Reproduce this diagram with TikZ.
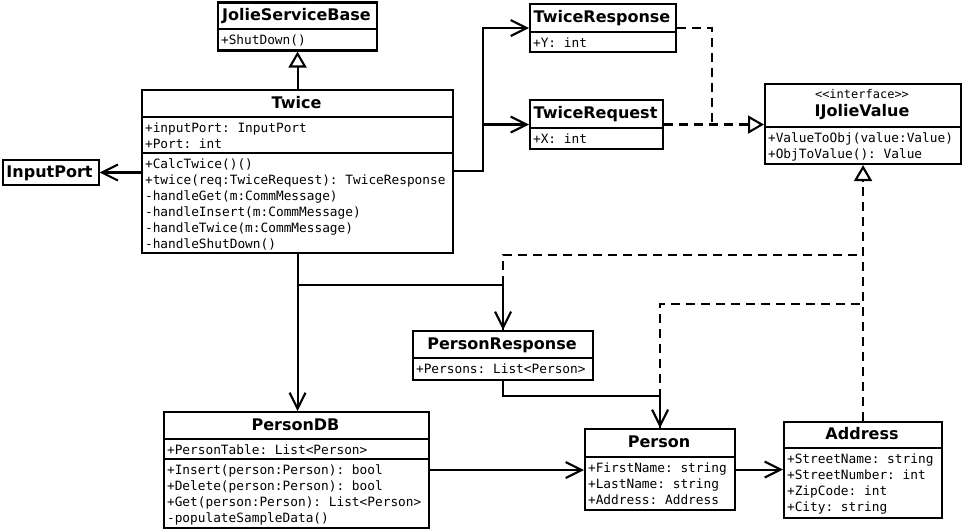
\documentclass[tikz,border=0pt]{standalone}
\usepackage{fontspec}
\setmainfont{DejaVu Sans}
\setmonofont{DejaVu Sans Mono}
\usetikzlibrary{arrows.meta,calc}
\begin{document}
\begin{tikzpicture}[x=1pt,y=-1pt,line width=2.1pt,
 cls/.style={draw=black,line width=2.1pt,fill=white,inner sep=0pt,anchor=north west},
 ttl/.style={anchor=base,inner sep=0pt,font=\fontsize{16}{19}\selectfont\bfseries},
 stereo/.style={anchor=base,inner sep=0pt,font=\fontsize{12}{14}\selectfont\ttfamily},
 mem/.style={anchor=north west,inner sep=0pt,align=left,font=\fontsize{12.8}{16}\selectfont\ttfamily},
 assoc/.style={-{Straight Barb[length=16pt,width=16pt]}},
 gen/.style={-{Triangle[open,length=16pt,width=18pt,fill=white]}},
 dsh/.style={dash pattern=on 9pt off 6pt},
 real/.style={dsh,-{Triangle[open,length=16pt,width=18pt,fill=white]}},
]
\fill[white] (0,0) rectangle (962,529);
\useasboundingbox (0,0) rectangle (962,529);

% JolieServiceBase
\node[cls,minimum width=159pt,minimum height=48pt] (jsb) at (217,1.5) {};
\draw (217,29) -- (376,29);
\node[ttl] (jsbt) at (296.5,20.5) {JolieServiceBase};
\node[mem] (jsbm) at (220,34) {+ShutDown()};

% Twice
\node[cls,minimum width=311pt,minimum height=163pt] (twice) at (141,89) {};
\draw (141,117) -- (452,117);
\draw (141,153) -- (452,153);
\node[ttl] (twicet) at (296.5,109) {Twice};
\node[mem] (twicea) at (144,122) {+inputPort: InputPort\\+Port: int};
\node[mem] (twicem) at (144,158) {+CalcTwice()()\\+twice(req:TwiceRequest): TwiceResponse\\-handleGet(m:CommMessage)\\-handleInsert(m:CommMessage)\\-handleTwice(m:CommMessage)\\-handleShutDown()};

% InputPort
\node[cls,minimum width=96pt,minimum height=25pt] (inport) at (1.5,159) {};
\node[ttl] (inportt) at (49.5,177.5) {InputPort};

% TwiceResponse
\node[cls,minimum width=146pt,minimum height=48pt] (tresp) at (529,3) {};
\draw (529,32) -- (675,32);
\node[ttl] (trespt) at (602,23) {TwiceResponse};
\node[mem] (trespm) at (532,37) {+Y: int};

% TwiceRequest
\node[cls,minimum width=133pt,minimum height=49pt] (treq) at (529,99) {};
\draw (529,128) -- (662,128);
\node[ttl] (treqt) at (595.5,119) {TwiceRequest};
\node[mem] (treqm) at (532,133) {+X: int};

% IJolieValue
\node[cls,minimum width=196pt,minimum height=80pt] (ijv) at (764,83) {};
\draw (764,127) -- (960,127);
\node[stereo] (ijvs) at (862,99) {<\kern0pt<interface>\kern0pt>};
\node[ttl] (ijvt) at (862,117) {IJolieValue};
\node[mem] (ijvm) at (767,132) {+ValueToObj(value:Value)\\+ObjToValue(): Value};

% PersonResponse
\node[cls,minimum width=180pt,minimum height=49pt] (presp) at (412,330) {};
\draw (412,358) -- (592,358);
\node[ttl] (prespt) at (502,350) {PersonResponse};
\node[mem] (prespm) at (415,363) {+Persons: List<Person>};

% PersonDB
\node[cls,minimum width=265pt,minimum height=116pt] (pdb) at (163,411) {};
\draw (163,439) -- (428,439);
\draw (163,459) -- (428,459);
\node[ttl] (pdbt) at (295.5,431) {PersonDB};
\node[mem] (pdba) at (166,444) {+PersonTable: List<Person>};
\node[mem] (pdbm) at (166,464) {+Insert(person:Person): bool\\+Delete(person:Person): bool\\+Get(person:Person): List<Person>\\-populateSampleData()};

% Person
\node[cls,minimum width=150pt,minimum height=81pt] (person) at (584,428) {};
\draw (584,457) -- (734,457);
\node[ttl] (persont) at (659,448) {Person};
\node[mem] (personm) at (587,462) {+FirstName: string\\+LastName: string\\+Address: Address};

% Address
\node[cls,minimum width=158pt,minimum height=96pt] (addr) at (783,421) {};
\draw (783,448) -- (941,448);
\node[ttl] (addrt) at (862,440) {Address};
\node[mem] (addrm) at (786,453) {+StreetName: string\\+StreetNumber: int\\+ZipCode: int\\+City: string};

% junction coordinates
\coordinate (j1) at (483,171);
\coordinate (j2) at (712,0);
\coordinate (j3) at (0,285);
\coordinate (j4) at (0,255);
\coordinate (j5) at (0,304);
\coordinate (j6) at (0,396);

% dashed realizations
\draw[dsh] (tresp.east) -| (j2 |- treq.east);
\draw[real] (treq.east) -- (ijv.west |- treq.east);
\draw[real] (addr.north) -- (ijv.south);
\draw[dsh] (presp.north) |- (ijv.south |- j4);
\draw[dsh] (person.north) |- (ijv.south |- j5);

% solid associations
\draw[gen] (twice.north) -- (jsb.south);
\draw[assoc] (twice.west |- inport.east) -- (inport.east);
\draw[assoc] (twice.east |- j1) -- (j1) |- (tresp.west);
\draw[assoc] (j1) |- (treq.west);
\draw[assoc] (twice.south) -- (twice.south |- pdb.north);
\draw[assoc] (twice.south |- j3) -| (presp.north);
\draw[assoc] (presp.south) -- (presp.south |- j6) -| (person.north);
\draw[assoc] (pdb.east) -- (pdb.east -| person.west);
\draw[assoc] (person.east) -- (person.east -| addr.west);
\end{tikzpicture}
\end{document}
